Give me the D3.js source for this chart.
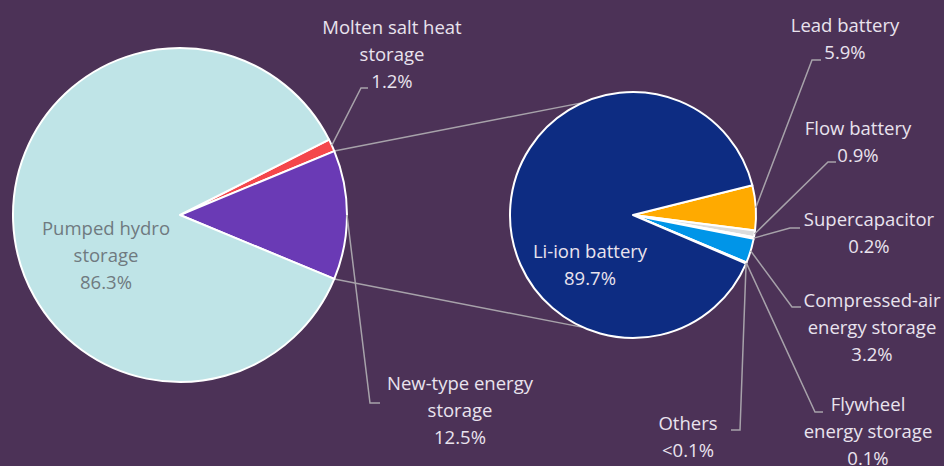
<!DOCTYPE html>
<html>
<head>
<meta charset="utf-8">
<script src="https://cdn.jsdelivr.net/npm/d3@7"></script>
<style>
  body { margin: 0; background: #4c3257; }
  svg { display: block; }
</style>
</head>
<body>
<script>
// data
let mainNames = ['Molten salt heat storage', 'New-type energy storage', 'Pumped hydro storage'];
let mainValues = [1.2, 12.5, 86.3];
let mainText = ['1.2%', '12.5%', '86.3%'];
let mainColors = ['#f4474b', '#6a3ab5', '#bfe4e7'];

let subNames = ['Lead battery', 'Flow battery', 'Supercapacitor', 'Compressed-air energy storage',
                'Flywheel energy storage', 'Others', 'Li-ion battery'];
let subValues = [5.9, 0.9, 0.2, 3.2, 0.1, 0.05, 89.7];
let subText = ['5.9%', '0.9%', '0.2%', '3.2%', '0.1%', '<0.1%', '89.7%'];
let subColors = ['#ffaa00', '#dcdcdc', '#f4f4f4', '#0095e8', '#ffffff', '#ffffff', '#0d2c82'];

// label text lines (split as drawn)
let mainLines = [['Molten salt heat', 'storage', '1.2%'], ['New-type energy', 'storage', '12.5%'], ['Pumped hydro', 'storage', '86.3%']];
let subLines = [['Lead battery', '5.9%'], ['Flow battery', '0.9%'], ['Supercapacitor', '0.2%'],
                ['Compressed-air', 'energy storage', '3.2%'], ['Flywheel', 'energy storage', '0.1%'],
                ['Others', '<0.1%'], ['Li-ion battery', '89.7%']];

const W = 944, H = 466;
const BG = '#4c3257';
const TXT = '#e9e3ee';
const LINE = '#a7a2aa';
const deg = Math.PI / 180;

let svg = d3.select('body').append('svg').attr('width', W).attr('height', H);
svg.append('rect').attr('width', W).attr('height', H).attr('fill', BG);

// geometry
let L = {cx: 180, cy: 215, r: 167};
let R = {cx: 633, cy: 215, r: 123};

// left pie: new-type slice centred on the right-hand side
let newStart = 90 * deg - mainValues[1] / 100 * Math.PI;
let mainPie = d3.pie().sort(null).value(d => d)
    .startAngle(newStart - mainValues[0] / 100 * 2 * Math.PI)
    .endAngle(newStart - mainValues[0] / 100 * 2 * Math.PI + 2 * Math.PI);
let mainArcs = mainPie(mainValues);

let subPie = d3.pie().sort(null).value(d => d)
    .startAngle(76 * deg).endAngle(76 * deg + 2 * Math.PI);
let subArcs = subPie(subValues);

function pt(c, a, r) {
    return [c.cx + r * Math.sin(a), c.cy - r * Math.cos(a)];
}

// connector lines between the two pies
let nt = mainArcs[1];
let conns = [[pt(L, nt.startAngle, L.r), pt(R, -24 * deg, R.r)],
             [pt(L, nt.endAngle, L.r), pt(R, 204 * deg, R.r)]];
svg.selectAll('line.conn').data(conns).enter().append('line')
    .attr('x1', d => d[0][0]).attr('y1', d => d[0][1])
    .attr('x2', d => d[1][0]).attr('y2', d => d[1][1])
    .attr('stroke', LINE).attr('stroke-width', 1.5);

function DrawPie(c, arcs, colors) {
    let arc = d3.arc().innerRadius(0).outerRadius(c.r);
    svg.append('g').attr('transform', `translate(${c.cx},${c.cy})`)
        .selectAll('path').data(arcs).enter().append('path')
        .attr('d', arc)
        .attr('fill', (d, i) => colors[i])
        .attr('stroke', 'white')
        .attr('stroke-width', 2)
        .attr('stroke-linejoin', 'round');
}
DrawPie(L, mainArcs, mainColors);
DrawPie(R, subArcs, subColors);

// leader line layout: [elbow x, elbow y, end x]
let mainLead = [[361, 88, 368], [370, 403, 380], null];
let subLead = [[812, 60, 821], [828, 162, 836], [790, 228, 800], [792, 307, 801],
               [815, 412, 823], [740, 430, 731], null];
// label centres: [x, first baseline]
let mainPos = [[392, 34], [460, 390], [106, 235]];
let subPos = [[845, 32], [858, 135], [869, 226], [872, 307], [868, 411], [688, 430], [590, 258]];

function DrawLeaders(c, arcs, lead) {
    arcs.forEach((d, i) => {
        if (!lead[i]) return;
        let mid = (d.startAngle + d.endAngle) / 2;
        let s = pt(c, mid, c.r);
        svg.append('polyline')
            .attr('points', [s, [lead[i][0], lead[i][1]], [lead[i][2], lead[i][1]]].join(' '))
            .attr('fill', 'none').attr('stroke', LINE).attr('stroke-width', 1.5);
    });
}
DrawLeaders(L, mainArcs, mainLead);
DrawLeaders(R, subArcs, subLead);

function DrawLabels(lines, pos, colorFor) {
    lines.forEach((ls, i) => {
        let t = svg.append('text')
            .attr('x', pos[i][0]).attr('y', pos[i][1])
            .attr('text-anchor', 'middle')
            .attr('font-family', '"Open Sans", "Noto Sans", sans-serif')
            .attr('font-size', 18.5)
            .attr('fill', colorFor(i));
        ls.forEach((s, j) => {
            t.append('tspan').attr('x', pos[i][0]).attr('dy', j == 0 ? 0 : 27).text(s);
        });
    });
}
DrawLabels(mainLines, mainPos, i => i == 2 ? '#6f7a80' : TXT);
DrawLabels(subLines, subPos, i => TXT);
</script>
</body>
</html>
